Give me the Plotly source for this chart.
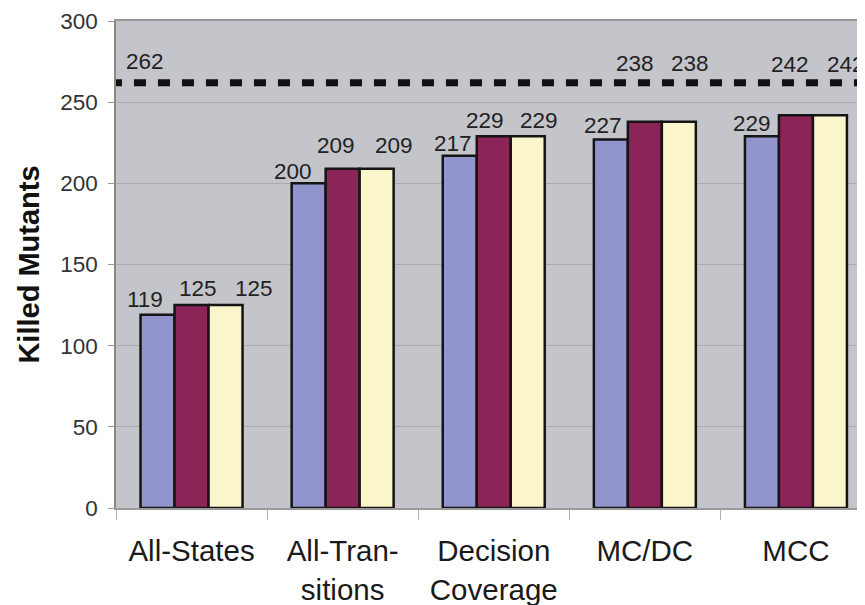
import plotly.graph_objects as go

categories = ["All-States", "All-Tran-<br>sitions", "Decision<br>Coverage", "MC/DC", "MCC"]
series_a = [119, 200, 217, 227, 229]
series_b = [125, 209, 229, 238, 242]
series_c = [125, 209, 229, 238, 242]
total_mutants = 262
y_ticks = [0, 50, 100, 150, 200, 250, 300]

# style: label offsets (px) relative to bar centre / bar top
label_dx = [[-13, -16, -7, -8, -10], [6, -7, -9, -10, -6], [28, 17, 11, 11, 16]]
label_dy = [[15, 12, 12, 14, 13], [17, 23, 16, 58, 51], [17, 23, 16, 58, 51]]

colors = ["#9294CD", "#8B2558", "#FBF5CB"]
font_family = "Liberation Sans, Arial, sans-serif"

fig = go.Figure()
all_series = [series_a, series_b, series_c]
for j, (vals, col) in enumerate(zip(all_series, colors)):
    fig.add_trace(go.Bar(
        x=categories, y=vals, name=f"Series {j+1}",
        marker=dict(color=col, line=dict(color="#151515", width=2.5)),
        showlegend=False,
    ))

annotations = []
bar_px = 34
for j, vals in enumerate(all_series):
    for i, v in enumerate(vals):
        annotations.append(dict(
            x=categories[i], y=v, xref="x", yref="y", text=str(v), showarrow=False,
            xshift=(j - 1) * bar_px + label_dx[j][i], yshift=label_dy[j][i],
            yanchor="middle", xanchor="center",
            font=dict(size=22.5, color="#222222", family=font_family),
        ))
annotations.append(dict(
    x=categories[0], y=total_mutants, xref="x", yref="y", text=str(total_mutants),
    showarrow=False, xshift=-47, yshift=21, yanchor="middle", xanchor="center",
    font=dict(size=22.5, color="#222222", family=font_family),
))

fig.add_shape(type="line", xref="x", yref="y", x0=-0.54, x1=4.6,
              y0=total_mutants, y1=total_mutants,
              line=dict(color="#111111", width=7, dash="12px,12px"))

fig.update_layout(
    width=865, height=605,
    margin=dict(l=108, r=0, t=13, b=105),
    paper_bgcolor="white", plot_bgcolor="#C3C5CA",
    barmode="group", bargap=0.325, bargroupgap=0,
    font=dict(family=font_family, color="#222222"),
    annotations=annotations,
)
fig.update_xaxes(
    range=[-0.5, 4.51], tickson="boundaries", ticks="outside", ticklen=10,
    tickcolor="#B0B0B0", showline=True, linecolor="#9A9A9A", linewidth=1.5, mirror=True,
    tickfont=dict(size=29.5, color="#1A1A1A", family=font_family), showgrid=False,
    ticklabelstandoff=16,
)
fig.update_yaxes(
    range=[0, 300], tickvals=y_ticks, ticks="outside", ticklen=6, tickcolor="#9A9A9A",
    showline=True, linecolor="#8A8A8A", linewidth=1.5,
    gridcolor="#A9ABAF", gridwidth=1,
    tickfont=dict(size=22.5, color="#333333", family=font_family), ticklabelstandoff=6,
    title=dict(text="<b>Killed Mutants</b>", font=dict(size=29, color="#111111", family=font_family), standoff=12),
    zeroline=False,
)

fig.write_html("out.html")
